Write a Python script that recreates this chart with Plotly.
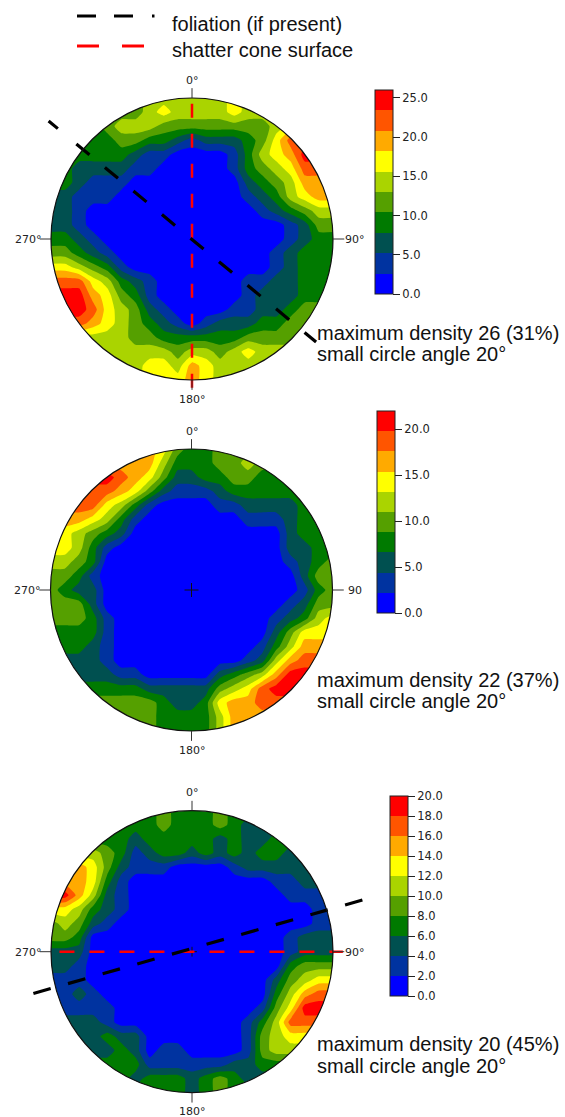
import numpy as np
import plotly.graph_objects as go

W, H = 565, 1117
R = 141.0

GRID = [round(-1 + i * 0.1, 1) for i in range(21)]
BAND_COLORS = ["#0000ff", "#0033a0", "#005050", "#007a00", "#55a000",
               "#aad400", "#ffff00", "#ffaa00", "#ff5500", "#ff0000"]

# density band (0-9) read at each grid node, top row first
BANDS_1 = [
    [4,4,4,4,4,4,4,5,5,5,5,5,5,6,5,5,5,5,6,7,7],
    [4,4,4,4,4,4,4,5,6,5,5,5,5,6,5,5,5,6,7,7,7],
    [3,3,3,3,4,5,5,5,4,4,4,4,4,4,4,4,5,6,7,8,8],
    [3,3,3,3,3,4,4,3,3,2,1,2,2,2,3,4,6,8,8,8,8],
    [2,2,3,3,3,3,2,1,1,0,0,0,0,1,3,5,6,7,9,9,9],
    [3,3,2,2,2,2,1,1,0,0,0,0,0,1,3,4,5,6,8,8,8],
    [3,3,2,1,1,1,0,0,0,0,0,0,0,0,2,3,4,5,7,7,7],
    [2,2,1,1,1,0,0,0,0,0,0,0,0,0,1,2,3,5,6,7,7],
    [2,2,1,0,0,0,0,0,0,0,0,0,0,0,0,1,2,3,4,5,5],
    [2,2,1,0,0,0,0,0,0,0,0,0,0,0,0,0,0,1,2,4,4],
    [3,3,2,1,0,0,0,0,0,0,0,0,0,0,0,0,0,1,2,3,3],
    [4,4,3,2,1,0,0,0,0,0,0,0,0,0,0,0,1,2,3,3,3],
    [6,6,5,4,3,1,0,0,0,0,0,0,0,0,0,0,1,2,3,3,3],
    [8,8,8,6,5,3,2,1,0,0,0,0,0,0,1,1,2,2,3,3,3],
    [9,9,9,7,6,4,3,1,0,0,0,0,0,0,1,2,2,2,3,3,3],
    [9,9,9,8,6,5,4,2,1,0,0,0,0,1,1,2,2,3,4,4,4],
    [8,8,8,7,6,5,4,3,2,1,0,1,2,2,2,3,3,4,4,4,4],
    [5,5,5,5,5,5,4,4,3,3,3,3,3,3,4,4,4,4,4,4,4],
    [5,5,5,5,5,5,5,5,5,4,5,5,4,5,6,5,5,5,5,5,5],
    [5,5,5,5,5,5,5,6,6,5,7,6,5,5,5,5,5,5,5,5,5],
    [5,5,5,5,5,5,5,6,6,6,7,6,5,5,5,5,5,5,5,5,5],
]
BANDS_2 = [
    [7,7,7,7,7,7,7,7,6,4,3,3,4,4,4,4,4,4,4,4,4],
    [7,7,7,7,7,7,7,7,5,3,3,3,4,4,5,4,4,4,4,4,4],
    [9,9,9,9,9,8,7,6,4,2,2,3,3,4,4,3,3,3,3,3,3],
    [8,8,8,8,8,7,6,4,2,1,1,1,2,3,3,3,3,3,3,3,3],
    [8,8,8,8,6,5,3,1,0,0,0,0,1,1,2,2,2,2,3,3,3],
    [7,7,7,6,5,3,1,0,0,0,0,0,0,0,1,1,1,2,3,3,3],
    [6,6,5,4,3,2,0,0,0,0,0,0,0,0,0,0,0,2,3,3,3],
    [6,6,5,3,1,0,0,0,0,0,0,0,0,0,0,0,0,2,2,3,3],
    [5,5,4,3,0,0,0,0,0,0,0,0,0,0,0,0,0,1,2,3,4],
    [4,4,3,1,0,0,0,0,0,0,0,0,0,0,0,0,0,0,2,4,4],
    [4,3,2,2,0,0,0,0,0,0,0,0,0,0,0,0,0,0,1,3,4],
    [4,4,4,2,0,0,0,0,0,0,0,0,0,0,0,0,0,1,2,4,4],
    [4,4,4,3,1,0,0,0,0,0,0,0,0,0,0,0,1,2,3,5,6],
    [3,3,3,3,1,0,0,0,0,0,0,0,0,0,0,0,2,4,6,6,6],
    [3,3,3,2,1,0,0,0,0,0,0,0,0,0,0,1,3,5,7,7,7],
    [2,2,2,2,1,0,0,0,0,0,0,0,0,0,1,2,5,7,8,8,8],
    [2,2,2,2,2,1,1,0,0,0,0,0,2,3,4,5,7,9,9,9,9],
    [3,3,3,3,3,3,3,2,2,2,2,2,4,5,6,8,9,9,9,9,9],
    [4,4,4,4,4,4,4,4,3,2,2,3,6,7,7,8,8,8,8,8,8],
    [4,4,4,4,4,4,4,4,3,3,3,3,5,7,7,7,7,7,7,7,7],
    [4,4,4,4,4,4,4,4,3,3,3,3,5,7,7,7,7,7,7,7,7],
]
BANDS_3 = [
    [3,3,3,3,3,3,3,3,4,3,3,3,4,3,3,3,3,3,3,3,3],
    [3,3,3,3,3,3,3,3,4,3,3,3,4,3,2,2,2,2,2,2,2],
    [3,3,3,3,3,3,2,3,3,3,3,3,2,3,2,2,3,3,3,3,3],
    [5,5,5,5,4,3,1,2,3,3,2,3,2,3,2,3,3,2,2,2,2],
    [7,7,7,6,4,2,1,1,1,0,0,0,0,1,2,2,2,2,2,2,2],
    [7,7,7,6,3,1,0,0,0,0,0,0,0,0,0,0,1,1,2,2,2],
    [9,9,7,5,2,1,0,0,0,0,0,0,0,0,0,0,0,1,1,1,1],
    [6,6,5,3,2,1,0,0,0,0,0,0,0,0,0,0,0,0,0,1,1],
    [4,5,4,2,1,0,0,0,0,0,0,0,0,0,0,0,0,0,0,1,1],
    [4,4,3,0,0,0,0,0,0,0,0,0,0,0,0,0,0,1,2,2,2],
    [2,2,2,0,0,0,0,0,0,0,0,0,0,0,0,0,0,1,2,2,2],
    [2,2,1,0,0,0,0,0,0,0,0,0,0,0,0,0,0,3,4,4,4],
    [1,1,1,0,0,0,0,0,0,0,0,0,0,0,0,0,2,4,5,6,6],
    [1,1,2,1,0,0,0,0,0,0,0,0,0,0,0,0,3,5,7,8,8],
    [1,1,1,1,1,0,0,0,0,0,0,0,0,0,0,1,4,6,9,9,9],
    [2,2,2,2,1,0,0,0,0,0,0,0,0,0,1,3,5,8,8,8,8],
    [2,2,2,2,3,2,2,0,0,0,0,0,0,0,1,4,5,6,6,6,6],
    [2,2,2,2,2,3,2,0,1,1,0,0,0,0,1,4,5,5,5,5,5],
    [3,3,3,3,3,3,3,1,1,1,1,1,1,2,2,3,3,3,3,3,3],
    [3,3,3,3,3,3,2,3,3,3,2,3,4,3,2,2,2,2,2,2,2],
    [3,3,3,3,3,3,3,3,3,3,2,3,4,3,3,3,3,3,3,3,3],
]

STEPS = [2.6, 2.2, 2.0]
CB_TICKS = [[0, 5, 10, 15, 20, 25], [0, 5, 10, 15, 20], list(range(0, 21, 2))]
NOTES = ["maximum density 26 (31%)", "maximum density 22 (37%)", "maximum density 20 (45%)"]
CIRCLE_NOTE = "small circle angle 20°"
EAST_LABELS = ["90°", "90", "90°"]

FOLIATION_1 = ([-1.017, 0.88], [0.837, -0.73])
SHATTER_1 = ([0, 0], [0.96, -1.06])
FOLIATION_3 = ([-1.125, 1.25], [-0.296, 0.378])
SHATTER_3 = ([-0.94, 1.07], [0, 0])

CENTERS = [(192, 239), (191.5, 590), (192, 951.7)]
BARS = [(375, 90, 294), (377, 411, 613), (390, 796, 996)]
NOTE_Y = [(333, 354), (680, 701), (1044, 1066)]
XR, YR = 1.3, 1.16

def px(x): return x / W
def py(y): return 1 - y / H

fig = go.Figure()
shapes, ann = [], []

def label(x, y, text, size, font="DejaVu Sans", anchor="center", color="#222222"):
    ann.append(dict(x=px(x), y=py(y), xref="paper", yref="paper", text=text, showarrow=False,
                    xanchor=anchor, yanchor="middle", xshift=0, yshift=0,
                    font=dict(family=font, size=size, color=color)))

th = np.linspace(0, -2 * np.pi, 241)
ring_x = list(np.cos(th))
ring_y = list(np.sin(th))
E = 1.03
mask_x = [1, E, E, -E, -E, E, E] + ring_x + [1]
mask_y = [0, 0, E, E, -E, -E, 0] + ring_y + [0]

for i, bands in enumerate([BANDS_1, BANDS_2, BANDS_3]):
    step = STEPS[i]
    cx, cy = CENTERS[i]
    sx = "x" if i == 0 else f"x{i+1}"
    sy = "y" if i == 0 else f"y{i+1}"
    ax_x = "xaxis" if i == 0 else f"xaxis{i+1}"
    ax_y = "yaxis" if i == 0 else f"yaxis{i+1}"
    z = (np.array(bands[::-1], dtype=float) + 0.5) * step
    cs = []
    for k, c in enumerate(BAND_COLORS):
        cs += [[k / 10, c], [(k + 1) / 10, c]]
    bx, top, bot = BARS[i]
    fig.add_trace(go.Contour(
        x=GRID, y=GRID, z=z, xaxis=sx, yaxis=sy, zmin=0, zmax=10 * step,
        colorscale=cs, autocontour=False,
        contours=dict(coloring="fill", start=0, end=10 * step, size=step, showlines=False),
        line=dict(width=0, smoothing=0.5), hoverinfo="skip",
        colorbar=dict(x=px(bx), xanchor="left", xref="paper", y=py(top), yanchor="top", yref="paper",
                      lenmode="pixels", len=bot - top, thicknessmode="pixels", thickness=18,
                      xpad=0, ypad=0, outlinewidth=1, outlinecolor="#222222", borderwidth=0,
                      tickmode="array", tickvals=CB_TICKS[i], tickformat=".1f", ticks="outside",
                      ticklen=7, tickwidth=1, tickcolor="#222222",
                      tickfont=dict(family="DejaVu Sans", size=11.5, color="#222222"))))
    fig.add_trace(go.Scatter(x=mask_x, y=mask_y, xaxis=sx, yaxis=sy, mode="none", fill="toself",
                             fillcolor="white", hoverinfo="skip", showlegend=False))
    if i == 0:
        lines = [(SHATTER_1, "#ff0000", 2.5, "14px,16px"), (FOLIATION_1, "black", 3.2, "12px,24px,17px,20px,17px,20px,17px,20px,17px,20px,17px,20px,17px,20px,17px,20px,17px,20px,17px,20px")]
    elif i == 2:
        lines = [(SHATTER_3, "#ff0000", 2.5, "15px,15px"), (FOLIATION_3, "black", 3.2, "18px,18px")]
    else:
        lines = []
    if i != 0:
        fig.add_trace(go.Scatter(x=[0], y=[0], xaxis=sx, yaxis=sy, mode="markers", hoverinfo="skip",
                                 showlegend=False,
                                 marker=dict(symbol="cross-thin", size=10 if i == 1 else 7,
                                             line=dict(width=1, color="#111111"))))
    for (lx, ly), col, wd, dash in lines:
        fig.add_trace(go.Scatter(x=lx, y=ly, xaxis=sx, yaxis=sy, mode="lines", hoverinfo="skip",
                                 showlegend=False, line=dict(color=col, width=wd, dash=dash)))
    fig.layout[ax_x] = dict(domain=[px(cx - XR * R), px(cx + XR * R)], range=[-XR, XR], visible=False,
                            anchor=sy, fixedrange=True)
    fig.layout[ax_y] = dict(domain=[py(cy + YR * R), py(cy - YR * R)], range=[-YR, YR], visible=False,
                            anchor=sx, fixedrange=True)
    shapes.append(dict(type="circle", xref=sx, yref=sy, x0=-1, x1=1, y0=-1, y1=1,
                       line=dict(color="#111111", width=1.2), layer="above"))
    for x0, y0, x1, y1 in [(0, 1, 0, 1.07), (0, -1, 0, -1.07), (-1, 0, -1.08, 0), (1, 0, 1.08, 0)]:
        shapes.append(dict(type="line", xref=sx, yref=sy, x0=x0, y0=y0, x1=x1, y1=y1,
                           line=dict(color="#333333", width=1), layer="above"))
    label(cx + 0.5, cy - 159, "0°", 11)
    label(cx + 0.5, cy + 160, "180°", 11)
    label(cx - 164, cy + 0.5, "270°", 11)
    label(cx + 163, cy + 0.5, EAST_LABELS[i], 11)
    ny1, ny2 = NOTE_Y[i]
    label(315, ny1, NOTES[i], 20, "Liberation Sans", "left", "#111111")
    label(315, ny2, CIRCLE_NOTE, 20, "Liberation Sans", "left", "#111111")

# legend key drawn on the page
for x0, x1 in [(77, 96), (114, 133), (152, 154.5)]:
    shapes.append(dict(type="line", xref="paper", yref="paper", x0=px(x0), x1=px(x1), y0=py(16), y1=py(16),
                       line=dict(color="black", width=3)))
for x0, x1 in [(77, 99), (122, 144)]:
    shapes.append(dict(type="line", xref="paper", yref="paper", x0=px(x0), x1=px(x1), y0=py(46), y1=py(46),
                       line=dict(color="#ff0000", width=3)))
label(170, 24, "foliation (if present)", 20, "Liberation Sans", "left", "#111111")
label(170, 50, "shatter cone surface", 20, "Liberation Sans", "left", "#111111")

fig.update_layout(width=W, height=H, margin=dict(l=0, r=0, t=0, b=0), paper_bgcolor="white",
                  plot_bgcolor="rgba(0,0,0,0)", showlegend=False, shapes=shapes, annotations=ann)
fig.write_html("out.html", config={"displayModeBar": False},
               post_script="document.body.style.margin='0';document.documentElement.style.overflow='hidden';")
